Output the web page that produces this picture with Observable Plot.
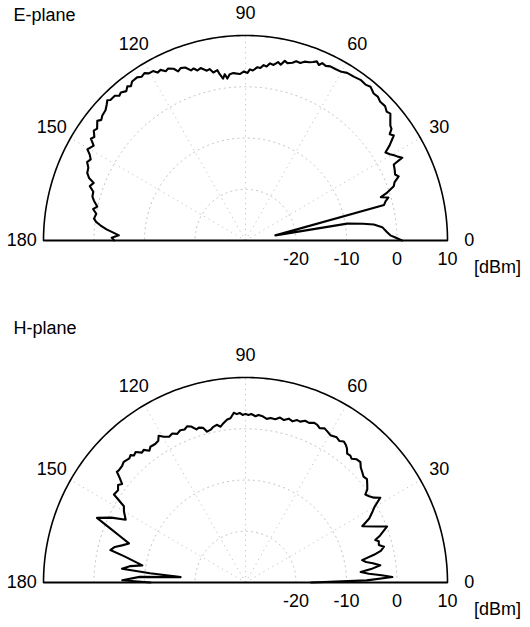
<!DOCTYPE html>
<html>
<head>
<meta charset="utf-8">
<script src="https://cdn.jsdelivr.net/npm/d3@7"></script>
<script src="https://cdn.jsdelivr.net/npm/@observablehq/plot@0.6"></script>
<style>
  html, body { margin: 0; padding: 0; background: #fff; }
  #chart { width: 530px; }
  #chart svg { display: block; }
</style>
</head>
<body>
<div id="chart"></div>
<script>
// ---- data ----
const angleTicks = [0, 30, 60, 90, 120, 150, 180];
const spokeAngles = [30, 60, 90, 120, 150];
const radialTicks = [-20, -10, 0, 10];
const gridCircles = [-20, -10, 0];
const rMin = -30, rMax = 10;
const unitLabel = "[dBm]";

const eTitle = "E-plane";
const eAngle = [0, 1, 2, 3.5, 5.5, 7, 8, 9.3, 9.6, 14.2, 15.5, 16.5, 17.5, 18.3, 19.8, 21, 22.4, 23.5, 25, 26.8, 27.5, 28.5, 29.5, 30.5, 31.8, 33, 34.9, 36, 37, 38, 39, 40.8, 42, 43.5, 45.4, 47, 48.5, 50.5, 52, 54, 56, 58.4, 60, 62, 63.7, 65, 66.3, 67, 68, 69, 70, 71.5, 72.6, 74, 75, 76.5, 77.5, 78.5, 79.5, 80.8, 82, 83, 84, 85, 86, 87.5, 88.5, 89.3, 90.5, 92, 94.2, 95.5, 96.5, 97.2, 98, 99, 99.5, 101, 102, 103, 104.8, 106, 107, 108, 109.5, 110.9, 112, 113, 114.6, 115.5, 116.8, 118, 119, 120.4, 121.5, 122.8, 124, 125.9, 127, 127.9, 129, 130.5, 131.5, 132.5, 134.3, 135, 136, 137.5, 139.3, 140.5, 141.5, 143.4, 144.5, 146, 147, 148.4, 150.4, 151.5, 152.7, 154, 155.5, 157.2, 158.5, 159.5, 161, 162.5, 164.2, 165.5, 167.3, 168.5, 170, 171.9, 173, 174.1, 175.5, 177, 177.7, 178.8, 180];
const eDb = [1.0, -0.2, -1.3, -2.0, -2.8, -4.4, -6.5, -9.6, -24, -1.7, -1.2, -0.5, -1.9, -0.6, 1.2, 1.6, 2.8, 2.3, 2.6, 2.9, 5.0, 4.3, 3.8, 3.2, 2.6, 4.0, 5.8, 5.3, 6.2, 6.4, 6.9, 7.9, 7.6, 8.1, 8.0, 8.4, 8.3, 8.9, 8.6, 8.75, 8.5, 8.4, 8.0, 7.9, 7.9, 7.6, 7.8, 7.2, 7.7, 7.3, 7.0, 6.8, 6.3, 6.4, 5.9, 5.6, 5.9, 5.0, 5.4, 4.7, 4.9, 4.2, 4.4, 3.8, 3.9, 3.2, 3.4, 2.7, 3.0, 2.5, 2.75, 2.6, 1.8, 2.7, 1.9, 2.9, 3.7, 3.4, 4.2, 4.0, 4.8, 4.5, 5.1, 4.9, 5.8, 6.0, 5.6, 6.4, 6.9, 6.6, 7.3, 7.1, 7.8, 7.8, 8.3, 8.0, 8.4, 8.3, 7.7, 8.1, 7.5, 8.0, 7.7, 8.3, 8.3, 8.7, 8.2, 7.6, 7.4, 7.0, 7.5, 6.6, 6.9, 6.1, 6.5, 5.3, 6.0, 5.1, 4.5, 4.9, 4.2, 4.0, 3.3, 2.1, 2.6, 1.6, 1.5, 1.0, 0.1, 0.8, 0.0, 0.3, -0.2, -1.1, -2.4, -4.2, -4.9, -3.5, -4.0];

const hTitle = "H-plane";
const hAngle = [0, 1, 2.1, 3, 4, 5.1, 6, 7.2, 8.5, 9.5, 10.7, 12, 13, 14.3, 15.5, 17, 17.9, 19, 21.3, 23, 25.4, 27, 28.5, 30, 31.8, 33, 34.5, 35.9, 37, 38.5, 40, 41.5, 43, 44.5, 45.9, 47.5, 49, 50, 51.3, 52.5, 53.5, 54.7, 56, 57.5, 59.7, 61, 62.5, 64, 65.2, 66.5, 68, 69.5, 71, 72.1, 73.5, 75, 76.5, 78, 79.5, 81.2, 82.5, 84, 85.5, 86.5, 88, 89, 90, 91, 92, 93, 94, 95.3, 96.5, 98, 99.2, 100.5, 102, 103, 104.5, 105.5, 107, 108, 109.5, 110.8, 112, 113.5, 115, 116.5, 118, 119.6, 121, 122, 123.5, 125.4, 126.5, 127.9, 129, 130.5, 131.7, 132.5, 133.5, 135.7, 137, 138.9, 139.7, 140.5, 141.8, 143, 144.5, 146.6, 148.3, 150, 152.7, 154.5, 156.8, 158.5, 160, 161.7, 163.5, 165, 166.7, 168, 170.7, 172, 173.7, 174.5, 175.3, 177, 179, 180];
const hDb = [-17, -6, -0.9, -3, -5.5, -7.1, -5, -3.1, -4.5, -5.8, -6.5, -4, -2.5, -1.7, -2.6, -2.4, -3.0, -1.8, 0.1, -2.0, -4.4, -2.5, -1.5, -0.5, 1.4, 0.4, -0.3, -0.7, 0.2, 0.8, 1.4, 1.2, 1.6, 2.0, 2.7, 2.6, 2.0, 2.3, 2.2, 3.0, 3.4, 3.7, 3.3, 3.6, 3.3, 3.6, 3.9, 3.5, 3.9, 4.0, 3.6, 3.7, 3.2, 3.3, 2.8, 3.1, 2.6, 2.9, 2.4, 2.5, 2.2, 2.6, 2.8, 2.5, 2.9, 2.7, 2.9, 2.7, 3.1, 2.9, 3.2, 2.2, 2.0, 1.4, 0.8, 1.3, 1.0, 0.6, 0.4, 1.3, 1.6, 1.4, 2.3, 2.6, 2.2, 2.4, 2.0, 2.5, 2.2, 2.7, 3.4, 2.6, 2.4, 2.5, 2.0, 2.8, 2.6, 3.5, 3.2, 3.7, 3.4, 3.7, 3.4, 3.3, 3.4, 2.4, 1.1, 1.6, 1.0, 1.2, -1.7, -2.2, -3.3, -0.6, 2.0, -1.2, -3.5, -5.7, -4.5, -3.2, -2.5, -5.5, -9.3, -7, -5.4, -11, -17.1, -9, -5.6, -11.2];

// ---- drawing ----
const kx = 5.05, ky = 5.125;   // px per radial unit
const R = rMax - rMin;
const rad = a => a * Math.PI / 180;
const toXY = (a, v) => ({x: (v - rMin) * Math.cos(rad(a)), y: (v - rMin) * Math.sin(rad(a))});
const arcAngles = d3.range(0, 180.5, 1);
const font = "Liberation Sans, Arial, Helvetica, sans-serif";
const fs = 18;

function panel(title, ang, db, H, cy) {
  const cx = 245;
  const curve = ang.map((a, i) => toXY(a, db[i]));
  const outer = arcAngles.map(a => toXY(a, rMax));
  const grid = gridCircles.flatMap(g => arcAngles.map(a => ({...toXY(a, g), g})));
  const spokes = spokeAngles.map(a => ({a, ...toXY(a, rMax)}));
  const angLabels = angleTicks.map(a => ({a, ...toXY(a, rMin + 44.3)}));
  const radLabels = radialTicks.map(v => ({v, x: v - rMin, y: 0}));
  return Plot.plot({
    width: 530, height: H, margin: 0,
    x: {domain: [-cx / kx, (530 - cx) / kx], range: [0, 530], axis: null},
    y: {domain: [-(H - cy) / ky, cy / ky], range: [H, 0], axis: null},
    style: {fontFamily: font, background: "white"},
    marks: [
      Plot.line(grid, {x: "x", y: "y", z: "g", stroke: "#c4c4c4", strokeWidth: 1, strokeDasharray: "1.2 4"}),
      Plot.link(spokes, {x1: 0, y1: 0, x2: "x", y2: "y", stroke: "#c4c4c4", strokeWidth: 1, strokeDasharray: "1.2 4"}),
      Plot.line(outer, {x: "x", y: "y", stroke: "black", strokeWidth: 1.6}),
      Plot.line(curve, {x: "x", y: "y", stroke: "black", strokeWidth: 2.1, strokeLinejoin: "round"}),
      Plot.link([0], {x1: -R, x2: R, y1: 0, y2: 0, stroke: "black", strokeWidth: 2.2}),
      Plot.text(angLabels, {x: "x", y: "y", text: d => String(d.a), fontSize: fs, fill: "black"}),
      Plot.text(radLabels, {x: "x", y: "y", text: d => String(d.v), dy: 19, fontSize: fs, fill: "black"}),
      Plot.text([unitLabel], {x: R, y: 0, text: d => d, dx: 50, dy: 27, fontSize: fs, fill: "black"}),
      Plot.text([title], {frameAnchor: "top-left", text: d => d, dx: 13, dy: 8, fontSize: fs, fill: "black", textAnchor: "start"})
    ]
  });
}

const root = document.getElementById("chart");
root.append(panel(eTitle, eAngle, eDb, 313, 240));
root.append(panel(hTitle, hAngle, hDb, 314, 269));
</script>
</body>
</html>
